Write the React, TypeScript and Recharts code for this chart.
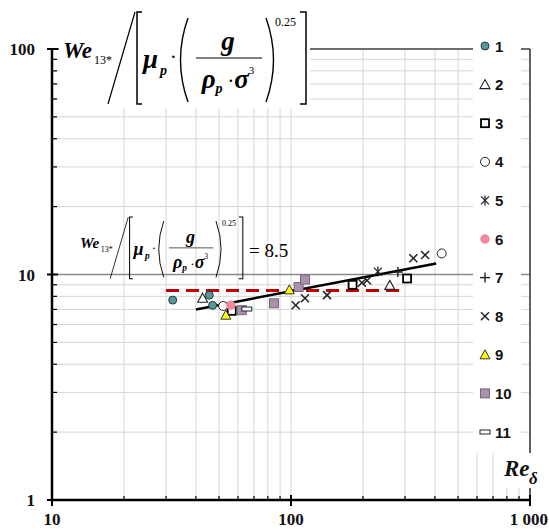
import React from "react"
import { ScatterChart, Scatter, XAxis, YAxis, CartesianGrid, ReferenceLine } from "recharts"

type Pt = { x: number; y: number }

const xTicks = [10, 20, 30, 40, 50, 60, 70, 80, 90, 100, 200, 300, 400, 500, 600, 700, 800, 900, 1000]
const yTicks = [1, 2, 3, 4, 5, 6, 7, 8, 9, 10, 20, 30, 40, 50, 60, 70, 80, 90, 100]
const xMajor = [10, 100, 1000]
const yMajor = [1, 10, 100]
const xLabels: Record<number, string> = { 10: "10", 100: "100", 1000: "1 000" }
const yLabels: Record<number, string> = { 1: "1", 10: "10", 100: "100" }

const legendNames = ["1", "2", "3", "4", "5", "6", "7", "8", "9", "10", "11"]

const series1: Pt[] = [{ x: 32, y: 7.7 }, { x: 45.5, y: 8.1 }, { x: 47, y: 7.3 }]
const series2: Pt[] = [{ x: 42.7, y: 7.85 }, { x: 259, y: 8.95 }]
const series3: Pt[] = [{ x: 56.5, y: 6.9 }, { x: 181, y: 9.0 }, { x: 306, y: 9.6 }]
const series4: Pt[] = [{ x: 52, y: 7.25 }, { x: 427, y: 12.4 }]
const series5: Pt[] = [{ x: 231, y: 10.3 }]
const series6: Pt[] = [{ x: 56, y: 7.3 }]
const series7: Pt[] = [{ x: 280, y: 10.25 }]
const series8: Pt[] = [
  { x: 104.6, y: 7.3 }, { x: 114.4, y: 7.85 }, { x: 141.5, y: 8.1 }, { x: 198, y: 9.2 },
  { x: 208, y: 9.4 }, { x: 325, y: 11.8 }, { x: 364, y: 12.2 }
]
const series9: Pt[] = [{ x: 53.4, y: 6.6 }, { x: 98.4, y: 8.55 }]
const series10: Pt[] = [{ x: 62.2, y: 6.95 }, { x: 84.9, y: 7.45 }, { x: 107.6, y: 8.8 }, { x: 114.4, y: 9.5 }]
const series11: Pt[] = [{ x: 65.3, y: 7.03 }]

// power-law fit and the constant level 8.5
const trend: Pt[] = [{ x: 40, y: 7.0 }, { x: 405, y: 11.2 }]
const level: Pt[] = [{ x: 30, y: 8.5 }, { x: 300, y: 8.5 }]

const allSeries = [series1, series2, series3, series4, series5, series6, series7, series8, series9, series10, series11]
const kinds = ["teal", "triOpen", "sqOpen", "circOpen", "star", "pink", "plus", "cross", "triYellow", "sqMauve", "dash"]

const serif = "Liberation Serif, Times New Roman, serif"
const sans = "Liberation Sans, Arial, sans-serif"

function Marker({ kind, cx, cy }: { kind: string; cx: number; cy: number }) {
  switch (kind) {
    case "teal":
      return <circle cx={cx} cy={cy} r={4} fill="#5a9696" stroke="#1f3d48" strokeWidth={1} />
    case "triOpen":
      return <polygon points={`${cx},${cy - 5} ${cx + 5},${cy + 4} ${cx - 5},${cy + 4}`} fill="#fff" stroke="#222" strokeWidth={1.1} />
    case "sqOpen":
      return <rect x={cx - 4} y={cy - 4} width={8} height={8} fill="#fff" stroke="#000" strokeWidth={1.8} />
    case "circOpen":
      return <circle cx={cx} cy={cy} r={4.5} fill="#fff" stroke="#222" strokeWidth={1} />
    case "star":
      return (
        <g stroke="#222" strokeWidth={1.3}>
          <line x1={cx} y1={cy - 5} x2={cx} y2={cy + 5} />
          <line x1={cx - 4} y1={cy - 4} x2={cx + 4} y2={cy + 4} />
          <line x1={cx - 4} y1={cy + 4} x2={cx + 4} y2={cy - 4} />
        </g>
      )
    case "pink":
      return <circle cx={cx} cy={cy} r={4.5} fill="#f28a9a" stroke="#f28a9a" strokeWidth={0.5} />
    case "plus":
      return (
        <g stroke="#222" strokeWidth={1.4}>
          <line x1={cx} y1={cy - 5} x2={cx} y2={cy + 5} />
          <line x1={cx - 5} y1={cy} x2={cx + 5} y2={cy} />
        </g>
      )
    case "cross":
      return (
        <g stroke="#222" strokeWidth={1.5}>
          <line x1={cx - 4} y1={cy - 4} x2={cx + 4} y2={cy + 4} />
          <line x1={cx - 4} y1={cy + 4} x2={cx + 4} y2={cy - 4} />
        </g>
      )
    case "triYellow":
      return <polygon points={`${cx},${cy - 5} ${cx + 5},${cy + 4} ${cx - 5},${cy + 4}`} fill="#ffff00" stroke="#333" strokeWidth={1} />
    case "sqMauve":
      return <rect x={cx - 4.5} y={cy - 4.5} width={9} height={9} fill="#a792a9" stroke="#76667a" strokeWidth={1} />
    case "dash":
      return <rect x={cx - 5} y={cy - 2} width={10} height={4} fill="#fff" stroke="#222" strokeWidth={1} />
  }
  return null
}

function XTick(props: any) {
  const { x, y, payload } = props
  const v = payload.value
  const major = xMajor.includes(v)
  const last = v === 1000
  return (
    <g>
      <line x1={x} x2={x} y1={major ? y - 5 : y - 4} y2={major ? y + 6 : y} stroke="#000" strokeWidth={major ? 2 : 1.2} />
      {major && (
        <text
          x={last ? x + 18 : x}
          y={y + 25}
          textAnchor={last ? "end" : "middle"}
          fontFamily={serif}
          fontWeight="bold"
          fontSize={17}
          fill="#111"
        >
          {xLabels[v]}
        </text>
      )}
    </g>
  )
}

function YTick(props: any) {
  const { x, y, payload } = props
  const v = payload.value
  const major = yMajor.includes(v)
  return (
    <g>
      <line x1={major ? x - 5 : x} x2={major ? x + 6 : x + 5} y1={y} y2={y} stroke="#000" strokeWidth={major ? 2 : 1.2} />
      {major && (
        <text x={x - 17} y={y + 6} textAnchor="end" fontFamily={serif} fontWeight="bold" fontSize={17} fill="#111">
          {yLabels[v]}
        </text>
      )}
    </g>
  )
}

function Formula() {
  const bi = { fontFamily: serif, fontWeight: "bold" as const, fontStyle: "italic" as const }
  return (
    <g fill="#000">
      <text x={63} y={58} fontSize={23} {...bi}>We</text>
      <text x={94} y={64} fontSize={12} fontFamily={serif}>13*</text>
      <line x1={108} y1={104} x2={135} y2={12} stroke="#000" strokeWidth={1.2} />
      <path d="M142 12 H137 V104 H142" fill="none" stroke="#000" strokeWidth={1.5} />
      <text x={143} y={68} fontSize={27} {...bi}>μ</text>
      <text x={160} y={75} fontSize={14} {...bi}>p</text>
      <text x={170} y={64} fontSize={20} fontFamily={serif}>·</text>
      <path d="M188 18 Q173 60 188 102" fill="none" stroke="#000" strokeWidth={1.4} />
      <text x={228} y={50} textAnchor="middle" fontSize={27} {...bi}>g</text>
      <line x1={196} x2={262} y1={58} y2={58} stroke="#000" strokeWidth={1} />
      <text x={228} y={88} textAnchor="middle" fontFamily={serif}>
        <tspan fontSize={27} fontWeight="bold" fontStyle="italic">ρ</tspan>
        <tspan fontSize={14} fontWeight="bold" fontStyle="italic" dy={5}>p</tspan>
        <tspan fontSize={20} dy={-5}> ·</tspan>
        <tspan fontSize={27} fontWeight="bold" fontStyle="italic">σ</tspan>
        <tspan fontSize={11} dy={-14}>3</tspan>
      </text>
      <path d="M266 18 Q281 60 266 102" fill="none" stroke="#000" strokeWidth={1.4} />
      <text x={275} y={26} fontSize={12} fontFamily={serif}>0.25</text>
      <path d="M300 12 H306 V104 H300" fill="none" stroke="#000" strokeWidth={1.5} />
    </g>
  )
}

export default function App() {
  return (
    <div style={{ position: "absolute", left: 0, top: 0, width: 549, height: 529, background: "#fff" }}>
      <ScatterChart width={549} height={529} margin={{ top: 49, right: 19, bottom: 0, left: 0 }}>
        <CartesianGrid stroke="#d6d6d6" strokeWidth={1} />
        <XAxis
          type="number"
          dataKey="x"
          scale="log"
          domain={[10, 1000]}
          allowDataOverflow
          ticks={xTicks}
          interval={0}
          height={29}
          tickSize={0}
          tickMargin={0}
          tickLine={false}
          axisLine={{ stroke: "#000", strokeWidth: 2.5 }}
          tick={<XTick />}
        />
        <YAxis
          type="number"
          dataKey="y"
          scale="log"
          domain={[1, 100]}
          allowDataOverflow
          ticks={yTicks}
          interval={0}
          width={52}
          tickSize={0}
          tickMargin={0}
          tickLine={false}
          axisLine={{ stroke: "#000", strokeWidth: 2.5 }}
          tick={<YTick />}
        />
        <ReferenceLine y={10} stroke="#8a8a8a" strokeWidth={1.5} />
        <ReferenceLine y={100} stroke="#444" strokeWidth={1.5} />
        <ReferenceLine x={1000} stroke="#333" strokeWidth={1.5} />
        <Scatter
          data={level}
          isAnimationActive={false}
          fill="#c00000"
          line={{ stroke: "#c00000", strokeWidth: 3, strokeDasharray: "13 7" }}
          shape={() => <g />}
        />
        <Scatter
          data={trend}
          isAnimationActive={false}
          fill="#000"
          line={{ stroke: "#000", strokeWidth: 2.5 }}
          shape={() => <g />}
        />
        {allSeries.map((d, i) => (
          <Scatter
            key={i}
            data={d}
            isAnimationActive={false}
            shape={(p: any) => <Marker kind={kinds[i]} cx={p.cx} cy={p.cy} />}
          />
        ))}
      </ScatterChart>
      <svg width={549} height={529} style={{ position: "absolute", left: 0, top: 0, pointerEvents: "none" }}>
        <rect x={59} y={0} width={251} height={108} fill="#fff" />
        <Formula />
        <g transform="translate(37.8,209) scale(0.67)">
          <Formula />
        </g>
        <text x={249} y={257} fontSize={19} fontFamily={serif} fill="#000">= 8.5</text>

        <rect x={473} y={30} width={48} height={423} fill="#fff" />
        {legendNames.map((name, i) => {
          const cy = 46 + i * 38.6
          return (
            <g key={name}>
              <Marker kind={kinds[i]} cx={485} cy={cy} />
              <text x={495} y={cy + 5.5} fontSize={15} fontWeight="bold" fontFamily={sans} fill="#111">{name}</text>
            </g>
          )
        })}

        <rect x={500} y={453} width={49} height={35} fill="#fff" />
        <text x={504} y={476} fontSize={23} fontWeight="bold" fontStyle="italic" fontFamily={serif} fill="#111">Re</text>
        <text x={529} y={484} fontSize={17} fontWeight="bold" fontStyle="italic" fontFamily={serif} fill="#111">δ</text>
      </svg>
    </div>
  )
}
